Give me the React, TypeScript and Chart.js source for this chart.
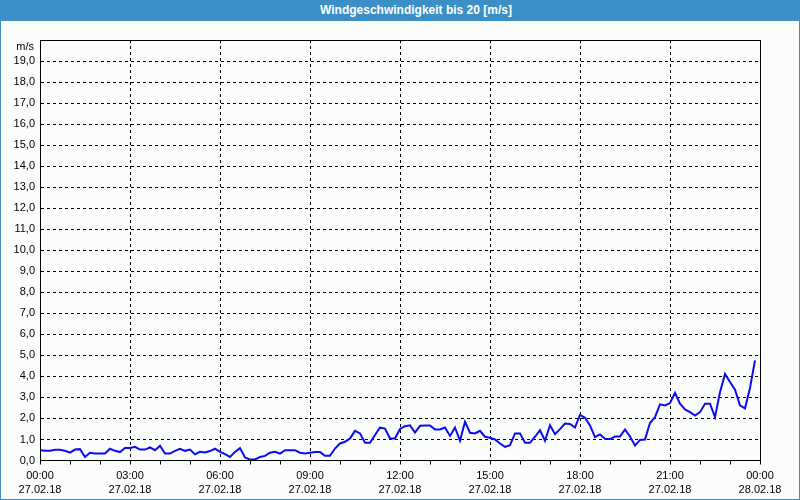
import React, { useEffect, useRef } from "react";
import { Chart, registerables } from "chart.js";

Chart.register(...registerables);

const TITLE = "Windgeschwindigkeit bis 20 [m/s]";
const UNIT = "m/s";
const DATE_START = "27.02.18";
const DATE_END = "28.02.18";

// Wind speed [m/s], one reading every 10 minutes from 00:00 to 23:50
const speeds: number[] = [
  // 00:00 - 05:50
  0.49, 0.46, 0.46, 0.51, 0.51, 0.46, 0.37, 0.52, 0.54, 0.17, 0.37, 0.33,
  0.33, 0.33, 0.56, 0.46, 0.40, 0.60, 0.60, 0.65, 0.52, 0.52, 0.62, 0.49,
  0.70, 0.33, 0.33, 0.46, 0.56, 0.46, 0.52, 0.29, 0.41, 0.38, 0.45, 0.56,
  // 06:00 - 11:50
  0.41, 0.30, 0.17, 0.41, 0.59, 0.14, 0.05, 0.05, 0.17, 0.22, 0.37, 0.41,
  0.33, 0.49, 0.49, 0.49, 0.37, 0.33, 0.37, 0.40, 0.40, 0.22, 0.22, 0.57,
  0.81, 0.89, 1.05, 1.41, 1.29, 0.84, 0.84, 1.21, 1.56, 1.52, 1.05, 1.05,
  // 12:00 - 17:50
  1.50, 1.63, 1.67, 1.33, 1.65, 1.67, 1.67, 1.48, 1.48, 1.57, 1.17, 1.57,
  0.94, 1.84, 1.32, 1.29, 1.41, 1.13, 1.08, 1.00, 0.81, 0.65, 0.73, 1.29,
  1.29, 0.84, 0.84, 1.13, 1.44, 0.94, 1.68, 1.25, 1.49, 1.76, 1.74, 1.57,
  // 18:00 - 23:50
  2.17, 2.03, 1.67, 1.11, 1.24, 1.03, 1.02, 1.14, 1.14, 1.48, 1.14, 0.71,
  0.98, 1.00, 1.78, 2.06, 2.67, 2.62, 2.73, 3.22, 2.70, 2.43, 2.30, 2.14,
  2.30, 2.70, 2.70, 2.06, 3.25, 4.12, 3.73, 3.37, 2.62, 2.48, 3.45, 4.76,
];

const Y_MIN = 0;
const Y_MAX = 20;
const X_MIN = 0;
const X_MAX = 24;

function hourLabel(h: number): string[] {
  const hh = String(h % 24).padStart(2, "0");
  return [hh + ":00", h >= 24 ? DATE_END : DATE_START];
}

const frame = {
  id: "frame",
  afterDraw(chart: any) {
    const { ctx, chartArea } = chart;
    const l = Math.round(chartArea.left) + 0.5;
    const t = Math.round(chartArea.top) + 0.5;
    const r = Math.round(chartArea.right) + 0.5;
    const b = Math.floor(chartArea.bottom) + 0.5;
    ctx.save();
    ctx.strokeStyle = "#000";
    ctx.lineWidth = 1;
    ctx.setLineDash([]);
    ctx.strokeRect(l, t, r - l, b - t);
    ctx.fillStyle = "#000";
    ctx.font = "11px 'Liberation Sans'";
    ctx.textAlign = "right";
    ctx.textBaseline = "middle";
    ctx.fillText(UNIT, chartArea.left - 6, chartArea.top + 7);
    ctx.restore();
  },
};

export default function App() {
  const ref = useRef<HTMLCanvasElement | null>(null);

  useEffect(() => {
    if (!ref.current) return;
    const points = speeds.map((v, i) => ({ x: i / 6, y: v }));
    const chart = new Chart(ref.current, {
      type: "line",
      data: {
        datasets: [
          {
            data: points,
            borderColor: "#0c0cf0",
            borderWidth: 2,
            pointRadius: 0,
            tension: 0,
            fill: false,
          },
        ],
      },
      options: {
        animation: false,
        responsive: false,
        maintainAspectRatio: false,
        layout: { padding: { left: 0, top: 19, right: 39, bottom: 0 } },
        plugins: {
          legend: { display: false },
          tooltip: { enabled: false },
          title: { display: false },
        },
        scales: {
          x: {
            type: "linear",
            min: X_MIN,
            max: X_MAX,
            afterFit: (s: any) => {
              s.height = 38.5;
            },
            ticks: {
              stepSize: 1,
              autoSkip: false,
              maxRotation: 0,
              color: "#000",
              padding: 4,
              font: { family: "'Liberation Sans'", size: 11, lineHeight: "14px" },
              callback: (v: any) => (Number(v) % 3 === 0 ? hourLabel(Number(v)) : ""),
            },
            grid: {
              drawTicks: true,
              tickLength: 4,
              color: (c: any) => {
                const v = c.tick ? c.tick.value : 0;
                return v % 3 === 0 && v > X_MIN && v < X_MAX ? "#000" : "rgba(0,0,0,0)";
              },
              tickColor: "#000",
              lineWidth: 1,
            },
            border: { display: true, color: "#000", width: 1, dash: [3, 3] },
          },
          y: {
            min: Y_MIN,
            max: Y_MAX,
            afterFit: (s: any) => {
              s.width = 39;
            },
            ticks: {
              stepSize: 1,
              autoSkip: false,
              color: "#000",
              padding: 5,
              font: { family: "'Liberation Sans'", size: 11 },
              callback: (v: any) =>
                Number(v) >= Y_MAX ? "" : Number(v).toFixed(1).replace(".", ","),
            },
            grid: {
              drawTicks: false,
              color: (c: any) => {
                const v = c.tick ? c.tick.value : 0;
                return v > Y_MIN && v < Y_MAX ? "#000" : "rgba(0,0,0,0)";
              },
              lineWidth: 1,
            },
            border: { display: true, color: "#000", width: 1, dash: [3, 3] },
          },
        },
      },
      plugins: [frame],
    });
    return () => chart.destroy();
  }, []);

  return (
    <div
      style={{
        position: "fixed",
        left: 0,
        top: 0,
        width: 800,
        height: 500,
        background: "#3b8fc6",
      }}
    >
      <div
        style={{
          position: "absolute",
          left: 0,
          top: 0,
          width: 832,
          height: 21,
          lineHeight: "21px",
          textAlign: "center",
          color: "#ffffff",
          fontFamily: "'Liberation Sans', sans-serif",
          fontWeight: "bold",
          fontSize: 12,
        }}
      >
        {TITLE}
      </div>
      <div
        style={{
          position: "absolute",
          left: 1,
          top: 21,
          width: 798,
          height: 478,
          background: "#fbfdfc",
        }}
      >
        <canvas ref={ref} width={798} height={478} style={{ display: "block" }} />
      </div>
    </div>
  );
}
